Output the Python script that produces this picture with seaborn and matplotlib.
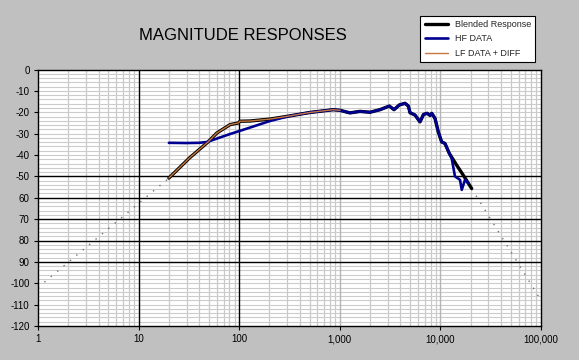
import numpy as np
import pandas as pd
import matplotlib
matplotlib.use("Agg")
import matplotlib.pyplot as plt
import seaborn as sns
from matplotlib.ticker import FixedLocator, NullFormatter

sns.set_theme(style="white")
plt.rcParams['font.family'] = ['Liberation Sans', 'DejaVu Sans']

# ---- data ----
blend_freq = [20, 32, 49, 60, 75, 81, 98, 102, 128, 202, 320, 506, 861, 1005, 1262, 1585, 1995,
              2510, 3105, 3460, 3905, 4450, 4800, 4990, 5590, 6270, 6800, 7400, 7900, 8200, 8840,
              9530, 10300, 11100, 12270, 14530, 16900, 20470]
blend_db = [-50.8, -41.4, -33.9, -29.7, -26.8, -25.8, -25.0, -24.2, -24.1, -23.2, -21.7, -20.1, -18.8,
            -19.1, -20.3, -19.6, -20.0, -18.8, -17.1, -18.8, -16.6, -15.8, -17.1, -20.2, -21.3,
            -24.5, -21.0, -20.5, -21.5, -20.5, -22.9, -29.2, -33.9, -34.6, -39.3, -44.8, -49.5, -55.7]

hf_freq = [20, 30, 40, 48, 60, 81, 120, 202, 320, 506, 861, 1005, 1262, 1585, 1995,
           2510, 3105, 3460, 3905, 4450, 4800, 4990, 5590, 6270, 6800, 7400, 7900, 8200, 8840,
           9530, 10300, 11100, 12270, 12950, 13960, 15660, 16300, 17570, 18950]
hf_db = [-34.3, -34.4, -34.3, -33.9, -32.3, -30.2, -27.6, -24.1, -21.7, -20.1, -18.8,
         -19.1, -20.3, -19.6, -20.0, -18.8, -17.1, -18.8, -16.6, -15.8, -17.1, -20.2, -21.3,
         -24.5, -21.0, -20.5, -21.5, -20.5, -22.9, -29.2, -33.9, -34.6, -39.3, -41.6, -50.0,
         -51.6, -56.3, -51.6, -53.2]

lf_freq = [20, 32, 49, 60, 75, 81, 98, 102, 128, 202, 320, 506, 861, 1005]
lf_db = [-50.8, -41.4, -33.9, -29.7, -26.8, -25.8, -25.0, -24.2, -24.1, -23.2, -21.7, -20.1, -18.8, -19.1]

ext_lo_freq = [1, 20]
ext_lo_db = [-102, -50.8]
ext_hi_freq = [20470, 100000]
ext_hi_db = [-55.7, -108]

x_ticks = [1, 10, 100, 1000, 10000, 100000]
x_labels = ["1", "10", "100", "1,000", "10,000", "100,000"]
y_ticks = [0, -10, -20, -30, -40, -50, -60, -70, -80, -90, -100, -110, -120]
y_labels = ["0", "-10", "-20", "-30", "-40", "-50", "60", "70", "80", "90", "-100", "-110", "-120"]

title = "MAGNITUDE RESPONSES"
series_names = ["Blended Response", "HF DATA", "LF DATA + DIFF"]

# ---- figure ----
W, H = 579, 360
fig = plt.figure(figsize=(W / 100, H / 100), dpi=100)
fig.patch.set_facecolor("#c0c0c0")
ax = fig.add_axes([38 / W, 1 - 326 / H, (541 - 38) / W, (326 - 69.5) / H])
ax.set_facecolor("white")
ax.set_xscale("log")
ax.set_xlim(1, 100000)
ax.set_ylim(-120, 0)

# grid
minor_x = [m * 10 ** d for d in range(0, 5) for m in range(2, 10)]
for xv in minor_x:
    ax.axvline(xv, color="#c8c8c8", lw=0.9, zorder=0.5)
for xv in [1000, 10000]:
    ax.axvline(xv, color="#b4b4b4", lw=1.0, zorder=0.6)
for xv in [10, 100]:
    ax.axvline(xv, color="black", lw=1.0, zorder=0.7)
for yv in np.arange(-118, 0, 2):
    ax.axhline(yv, color="#cccccc", lw=0.8, zorder=0.5)
for yv in [-50, -60, -70, -80, -90]:
    ax.axhline(yv, color="black", lw=1.0, zorder=0.7)

# dotted extensions
sns.lineplot(x=ext_lo_freq, y=ext_lo_db, ax=ax, color="#707070", lw=1.0,
             linestyle=(0, (1, 5)), zorder=2, legend=False)
sns.lineplot(x=ext_hi_freq, y=ext_hi_db, ax=ax, color="#707070", lw=1.0,
             linestyle=(0, (1, 5)), zorder=2, legend=False)

sns.lineplot(x=blend_freq, y=blend_db, ax=ax, color="black", lw=2.4, zorder=3,
             sort=False, label=series_names[0])
sns.lineplot(x=hf_freq, y=hf_db, ax=ax, color="#000090", lw=1.9, zorder=4,
             sort=False, label=series_names[1])
sns.lineplot(x=lf_freq, y=lf_db, ax=ax, color="#c8783c", lw=1.0, zorder=5,
             sort=False, label=series_names[2])

# ticks
ax.xaxis.set_major_locator(FixedLocator(x_ticks))
ax.set_xticklabels(x_labels)
ax.xaxis.set_minor_locator(FixedLocator([]))
ax.xaxis.set_minor_formatter(NullFormatter())
ax.set_yticks(y_ticks)
ax.set_yticklabels(y_labels)
ax.tick_params(axis="both", which="major", length=3, width=0.8, color="black",
               labelsize=7, labelcolor="black", direction="out", pad=3, left=True, bottom=True)
ax.set_xlabel("")
ax.set_ylabel("")
for s in ax.spines.values():
    s.set_visible(True)
    s.set_color("black")
    s.set_linewidth(1.0)

fig.text(243 / W, 1 - 35 / H, title, ha="center", va="center", fontsize=12, color="black")

leg = ax.legend(loc="upper right", bbox_to_anchor=(540 / W, 1 - 11 / H),
                bbox_transform=fig.transFigure, fontsize=6.5, frameon=True,
                fancybox=False, borderpad=0.5, handlelength=2.5, labelspacing=0.6,
                edgecolor="black", facecolor="white", framealpha=1)
leg.get_frame().set_linewidth(0.8)

fig.savefig("out.png", dpi=100, facecolor=fig.get_facecolor())
